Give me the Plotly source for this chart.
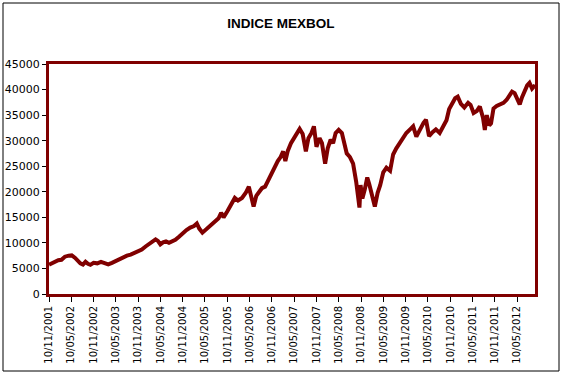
import plotly.graph_objects as go

# ---- data ----
dates = [
    "2001-11-10", "2001-12-05", "2001-12-31", "2002-01-25", "2002-02-20", "2002-03-20",
    "2002-04-20", "2002-05-15", "2002-06-10", "2002-07-05", "2002-07-25", "2002-08-15",
    "2002-09-05", "2002-09-25", "2002-10-15", "2002-11-10", "2002-12-10", "2003-01-10",
    "2003-02-10", "2003-03-10", "2003-04-10", "2003-05-10", "2003-06-10", "2003-07-10",
    "2003-08-10", "2003-09-10", "2003-10-10", "2003-11-10", "2003-12-10", "2004-01-10",
    "2004-02-10", "2004-03-10", "2004-04-01", "2004-04-20", "2004-05-10", "2004-06-01",
    "2004-06-25", "2004-07-20", "2004-08-15", "2004-09-10", "2004-10-10", "2004-11-10",
    "2004-12-10", "2005-01-10", "2005-02-10", "2005-03-05", "2005-03-25", "2005-04-20",
    "2005-05-15", "2005-06-10", "2005-07-10", "2005-08-05", "2005-08-30", "2005-09-20",
    "2005-10-10", "2005-11-10", "2005-12-10", "2006-01-10", "2006-02-05", "2006-03-10",
    "2006-04-10", "2006-05-05", "2006-05-25", "2006-06-13", "2006-07-05", "2006-07-25",
    "2006-08-20", "2006-09-15", "2006-10-10", "2006-11-05", "2006-12-05", "2006-12-28",
    "2007-01-20", "2007-02-10", "2007-02-28", "2007-03-20", "2007-04-15", "2007-05-10",
    "2007-06-05", "2007-06-25", "2007-07-20", "2007-08-15", "2007-09-05", "2007-09-30",
    "2007-10-20", "2007-11-10", "2007-12-05", "2007-12-25", "2008-01-20", "2008-02-10",
    "2008-03-05", "2008-03-25", "2008-04-15", "2008-05-10", "2008-06-05", "2008-06-25",
    "2008-07-15", "2008-08-10", "2008-09-05", "2008-09-30", "2008-10-15", "2008-10-27",
    "2008-11-05", "2008-11-20", "2008-12-10", "2008-12-30", "2009-01-15", "2009-02-10",
    "2009-03-02", "2009-03-25", "2009-04-15", "2009-05-10", "2009-06-05", "2009-07-05",
    "2009-07-30", "2009-08-25", "2009-09-20", "2009-10-20", "2009-11-15", "2009-12-20",
    "2010-01-10", "2010-02-05", "2010-03-05", "2010-04-05", "2010-04-25", "2010-05-20",
    "2010-06-20", "2010-07-15", "2010-08-15", "2010-09-15", "2010-10-10", "2010-11-01",
    "2010-11-25", "2010-12-20", "2011-01-10", "2011-02-05", "2011-03-05", "2011-04-05",
    "2011-04-25", "2011-05-20", "2011-06-15", "2011-07-10", "2011-08-05", "2011-08-20",
    "2011-09-05", "2011-09-25", "2011-10-10", "2011-10-30", "2011-11-25", "2011-12-20",
    "2012-01-20", "2012-02-15", "2012-03-10", "2012-03-30", "2012-04-20", "2012-05-15",
    "2012-06-01", "2012-06-20", "2012-07-10", "2012-08-01", "2012-08-20", "2012-09-10",
    "2012-09-25", "2012-10-04",
]
mexbol = [
    5750, 6100, 6350, 6600, 6700, 7300,
    7500, 7550, 7100, 6400, 6000, 5750,
    6300, 5900, 5700, 6100, 6000, 6300,
    6000, 5800, 6100, 6500, 6900, 7200,
    7500, 7700, 8000, 8300, 8700, 9300,
    9800, 10200, 10700, 10400, 9700, 10100,
    10300, 10000, 10200, 10600, 11200, 12000,
    12500, 13000, 13300, 13800, 12800, 12000,
    12500, 13100, 13600, 14100, 14800, 15900,
    15000, 16200, 17500, 18800, 18300, 18800,
    19800, 21000, 19000, 17100, 19200, 20000,
    20700, 21000, 22300, 23300, 24800, 26000,
    26800, 27900, 26000, 28000, 29500, 30500,
    31500, 32300, 31300, 27900, 30500, 31500,
    32800, 28800, 30500, 29500, 25500, 28500,
    30200, 29500, 31500, 32100, 31500, 29500,
    27500, 26800, 25500, 22000, 19500, 16900,
    21300, 18700, 20500, 22800, 21500, 19000,
    17100, 19800, 21300, 23800, 24700, 24100,
    27300, 28500, 29500, 30500, 31500, 32300,
    32800, 30800, 32200, 33500, 34100, 30900,
    31700, 32200, 31500, 32700, 34000, 36200,
    37300, 38300, 38600, 37200, 36500, 37400,
    37000, 35400, 35800, 36700, 34500, 32100,
    35000, 33000, 33400, 36300, 36800, 37000,
    37400, 38000, 38800, 39600, 39300, 38000,
    37100, 38500, 39800, 40800, 41300, 40200,
    40600, 40500,
]
tick_dates = [
    "2001-11-10", "2002-05-10", "2002-11-10", "2003-05-10", "2003-11-10", "2004-05-10",
    "2004-11-10", "2005-05-10", "2005-11-10", "2006-05-10", "2006-11-10", "2007-05-10",
    "2007-11-10", "2008-05-10", "2008-11-10", "2009-05-10", "2009-11-10", "2010-05-10",
    "2010-11-10", "2011-05-10", "2011-11-10", "2012-05-10",
]
tick_labels = [
    "10/11/2001", "10/05/2002", "10/11/2002", "10/05/2003", "10/11/2003", "10/05/2004",
    "10/11/2004", "10/05/2005", "10/11/2005", "10/05/2006", "10/11/2006", "10/05/2007",
    "10/11/2007", "10/05/2008", "10/11/2008", "10/05/2009", "10/11/2009", "10/05/2010",
    "10/11/2010", "10/05/2011", "10/11/2011", "10/05/2012",
]
title_text = "INDICE MEXBOL"

DARK_RED = "#800000"
W, H = 564, 376
L, R, T, B = 49, 29, 64, 82
pw, ph = W - L - R, H - T - B

fig = go.Figure()
fig.add_trace(go.Scatter(
    x=dates, y=mexbol, mode="lines",
    line=dict(color=DARK_RED, width=4),
    showlegend=False, hoverinfo="skip",
))

def px2paper_x(px):
    return (px - L) / pw

def px2paper_y(py):
    return (H - B - py) / ph

fig.update_layout(
    width=W, height=H,
    margin=dict(l=L, r=R, t=T, b=B, pad=0, autoexpand=False),
    paper_bgcolor="white", plot_bgcolor="white",
    title=dict(
        text="<b>" + title_text + "</b>",
        x=281 / W, xref="container", xanchor="center",
        y=1 - 23 / H, yref="container", yanchor="middle",
        font=dict(family="Liberation Sans, Arial, sans-serif", size=13.5, color="black"),
    ),
    xaxis=dict(
        type="date",
        range=["2001-11-10", "2012-10-04"],
        tickmode="array", tickvals=tick_dates, ticktext=tick_labels,
        tickangle=-90,
        ticks="outside", ticklen=5, tickwidth=1, tickcolor="black",
        showline=True, linecolor=DARK_RED, linewidth=3, mirror=True,
        showgrid=False, zeroline=False, automargin=False,
        tickfont=dict(family="DejaVu Sans, sans-serif", size=10, color="black"),
    ),
    yaxis=dict(
        range=[0, 45000], dtick=5000, tick0=0, tickformat="d",
        ticks="outside", ticklen=4, tickwidth=1, tickcolor="black",
        showline=True, linecolor=DARK_RED, linewidth=3, mirror=True,
        showgrid=False, zeroline=False, automargin=False,
        tickfont=dict(family="DejaVu Sans, sans-serif", size=11, color="black"),
    ),
    shapes=[dict(
        type="rect", xref="paper", yref="paper",
        x0=px2paper_x(3), x1=px2paper_x(559),
        y0=px2paper_y(371), y1=px2paper_y(3),
        line=dict(color="black", width=1), fillcolor="rgba(0,0,0,0)",
        layer="below",
    )],
)

fig.write_html(
    "out.html",
    config={"displayModeBar": False},
    post_script="document.body.style.margin='0';document.body.style.overflow='hidden';",
)
